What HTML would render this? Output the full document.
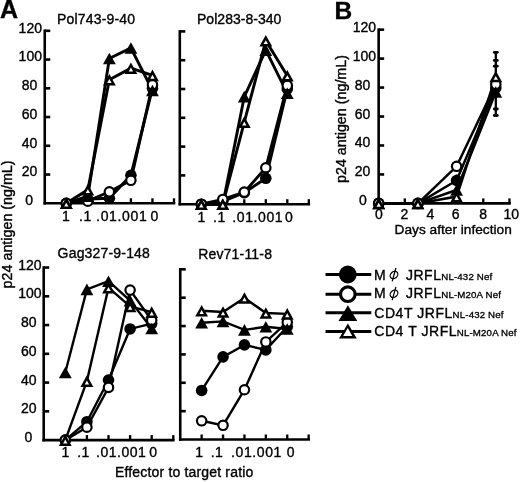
<!DOCTYPE html>
<html><head><meta charset="utf-8"><style>
html,body{margin:0;padding:0;background:#fff;}
svg{display:block;filter:blur(0.35px);}
text{font-family:"Liberation Sans", sans-serif;fill:#000;stroke:#000;stroke-width:0.36px;}
</style></head><body>
<svg width="520" height="482" viewBox="0 0 520 482">
<rect width="520" height="482" fill="#fff"/>
<g stroke="#000" fill="none">
<text x="0.1" y="18" font-size="25" font-weight="bold">A</text>
<text x="334.6" y="18.6" font-size="24.5" font-weight="bold">B</text>
<line x1="44.75" y1="29.5" x2="44.75" y2="204.6" stroke-width="2.6"/>
<line x1="44.75" y1="174.55" x2="50.25" y2="174.55" stroke-width="2.6"/>
<line x1="44.75" y1="145.8" x2="50.25" y2="145.8" stroke-width="2.6"/>
<line x1="44.75" y1="117.05" x2="50.25" y2="117.05" stroke-width="2.6"/>
<line x1="44.75" y1="88.3" x2="50.25" y2="88.3" stroke-width="2.6"/>
<line x1="44.75" y1="59.55" x2="50.25" y2="59.55" stroke-width="2.6"/>
<line x1="44.75" y1="30.8" x2="50.25" y2="30.8" stroke-width="2.6"/>
<line x1="43.45" y1="203.3" x2="175.29" y2="203.3" stroke-width="2.6"/>
<line x1="66.29" y1="203.3" x2="66.29" y2="198.3" stroke-width="2.34"/>
<line x1="87.83" y1="203.3" x2="87.83" y2="198.3" stroke-width="2.34"/>
<line x1="109.37" y1="203.3" x2="109.37" y2="198.3" stroke-width="2.34"/>
<line x1="130.91" y1="203.3" x2="130.91" y2="198.3" stroke-width="2.34"/>
<line x1="152.45" y1="203.3" x2="152.45" y2="198.3" stroke-width="2.34"/>
<line x1="173.99" y1="203.3" x2="173.99" y2="198.3" stroke-width="2.34"/>
<text x="57" y="23.6" font-size="14" letter-spacing="0.18">Pol743-9-40</text>
<polyline points="66.29,203.3 87.83,198.99 109.37,198.27 130.91,175.27 152.45,88.3" fill="none" stroke-width="2.9"/>
<polyline points="66.29,203.3 87.83,201.14 109.37,191.8 130.91,180.3 152.45,84.71" fill="none" stroke-width="2.9"/>
<polyline points="66.29,203.3 87.83,196.11 109.37,58.54 130.91,48.05 152.45,90.46" fill="none" stroke-width="2.9"/>
<polyline points="66.29,203.3 87.83,189.79 109.37,79.68 130.91,68.18 152.45,75.36" fill="none" stroke-width="2.9"/>
<circle cx="66.29" cy="203.3" r="5.8" fill="#000" stroke="none"/>
<circle cx="87.83" cy="198.99" r="5.8" fill="#000" stroke="none"/>
<circle cx="109.37" cy="198.27" r="5.8" fill="#000" stroke="none"/>
<circle cx="130.91" cy="175.27" r="5.8" fill="#000" stroke="none"/>
<circle cx="152.45" cy="88.3" r="5.8" fill="#000" stroke="none"/>
<circle cx="66.29" cy="203.3" r="4.7" fill="#fff" stroke-width="2.2"/>
<circle cx="87.83" cy="201.14" r="4.7" fill="#fff" stroke-width="2.2"/>
<circle cx="109.37" cy="191.8" r="4.7" fill="#fff" stroke-width="2.2"/>
<circle cx="130.91" cy="180.3" r="4.7" fill="#fff" stroke-width="2.2"/>
<circle cx="152.45" cy="84.71" r="4.7" fill="#fff" stroke-width="2.2"/>
<polygon points="66.29,197.5 72.69,209.1 59.89,209.1" fill="#000" stroke="none"/>
<polygon points="87.83,190.31 94.23,201.91 81.43,201.91" fill="#000" stroke="none"/>
<polygon points="109.37,52.74 115.77,64.34 102.97,64.34" fill="#000" stroke="none"/>
<polygon points="130.91,42.25 137.31,53.85 124.51,53.85" fill="#000" stroke="none"/>
<polygon points="152.45,84.66 158.85,96.26 146.05,96.26" fill="#000" stroke="none"/>
<polygon points="66.29,197.5 72.69,209.1 59.89,209.1" fill="#000" stroke="none"/>
<polygon points="66.29,202.68 68.46,206.6 64.12,206.6" fill="#fff" stroke="none"/>
<polygon points="87.83,183.99 94.23,195.59 81.43,195.59" fill="#000" stroke="none"/>
<polygon points="87.83,189.16 90,193.09 85.66,193.09" fill="#fff" stroke="none"/>
<polygon points="109.37,73.88 115.77,85.48 102.97,85.48" fill="#000" stroke="none"/>
<polygon points="109.37,79.05 111.54,82.98 107.2,82.98" fill="#fff" stroke="none"/>
<polygon points="130.91,62.38 137.31,73.98 124.51,73.98" fill="#000" stroke="none"/>
<polygon points="130.91,67.55 133.08,71.48 128.74,71.48" fill="#fff" stroke="none"/>
<polygon points="152.45,69.56 158.85,81.16 146.05,81.16" fill="#000" stroke="none"/>
<polygon points="152.45,74.74 154.62,78.66 150.28,78.66" fill="#fff" stroke="none"/>
<text x="29.2" y="205" font-size="14" text-anchor="middle">0</text>
<text x="29.5" y="176.25" font-size="14" text-anchor="middle">20</text>
<text x="29.5" y="147.5" font-size="14" text-anchor="middle">40</text>
<text x="29.5" y="118.75" font-size="14" text-anchor="middle">60</text>
<text x="29.5" y="90" font-size="14" text-anchor="middle">80</text>
<text x="30.3" y="61.25" font-size="14" text-anchor="middle">100</text>
<text x="30.3" y="32.5" font-size="14" text-anchor="middle">120</text>
<text x="62.1" y="221" font-size="14">1</text>
<text x="79" y="221" font-size="14" letter-spacing="0.5">.1</text>
<text x="96.1" y="221" font-size="14" letter-spacing="0.65">.01.001</text>
<text x="150.6" y="221" font-size="14">0</text>
<line x1="179.8" y1="30.1" x2="179.8" y2="205.5" stroke-width="2.6"/>
<line x1="179.8" y1="175.4" x2="185.3" y2="175.4" stroke-width="2.6"/>
<line x1="179.8" y1="146.6" x2="185.3" y2="146.6" stroke-width="2.6"/>
<line x1="179.8" y1="117.8" x2="185.3" y2="117.8" stroke-width="2.6"/>
<line x1="179.8" y1="89" x2="185.3" y2="89" stroke-width="2.6"/>
<line x1="179.8" y1="60.2" x2="185.3" y2="60.2" stroke-width="2.6"/>
<line x1="179.8" y1="31.4" x2="185.3" y2="31.4" stroke-width="2.6"/>
<line x1="178.5" y1="204.2" x2="310.1" y2="204.2" stroke-width="2.6"/>
<line x1="201.3" y1="204.2" x2="201.3" y2="199.2" stroke-width="2.34"/>
<line x1="222.8" y1="204.2" x2="222.8" y2="199.2" stroke-width="2.34"/>
<line x1="244.3" y1="204.2" x2="244.3" y2="199.2" stroke-width="2.34"/>
<line x1="265.8" y1="204.2" x2="265.8" y2="199.2" stroke-width="2.34"/>
<line x1="287.3" y1="204.2" x2="287.3" y2="199.2" stroke-width="2.34"/>
<line x1="308.8" y1="204.2" x2="308.8" y2="199.2" stroke-width="2.34"/>
<text x="197" y="23.6" font-size="14" letter-spacing="0.03">Pol283-8-340</text>
<polyline points="201.3,204.2 222.8,201.32 244.3,192.68 265.8,178.28 287.3,89" fill="none" stroke-width="2.9"/>
<polyline points="201.3,204.2 222.8,199.45 244.3,192.1 265.8,167.77 287.3,85.4" fill="none" stroke-width="2.9"/>
<polyline points="201.3,204.2 222.8,204.2 244.3,96.63 265.8,50.12 287.3,93.32" fill="none" stroke-width="2.9"/>
<polyline points="201.3,204.2 222.8,204.2 244.3,122.12 265.8,40.76 287.3,75.75" fill="none" stroke-width="2.9"/>
<circle cx="201.3" cy="204.2" r="5.8" fill="#000" stroke="none"/>
<circle cx="222.8" cy="201.32" r="5.8" fill="#000" stroke="none"/>
<circle cx="244.3" cy="192.68" r="5.8" fill="#000" stroke="none"/>
<circle cx="265.8" cy="178.28" r="5.8" fill="#000" stroke="none"/>
<circle cx="287.3" cy="89" r="5.8" fill="#000" stroke="none"/>
<circle cx="201.3" cy="204.2" r="4.7" fill="#fff" stroke-width="2.2"/>
<circle cx="222.8" cy="199.45" r="4.7" fill="#fff" stroke-width="2.2"/>
<circle cx="244.3" cy="192.1" r="4.7" fill="#fff" stroke-width="2.2"/>
<circle cx="265.8" cy="167.77" r="4.7" fill="#fff" stroke-width="2.2"/>
<circle cx="287.3" cy="85.4" r="4.7" fill="#fff" stroke-width="2.2"/>
<polygon points="201.3,198.4 207.7,210 194.9,210" fill="#000" stroke="none"/>
<polygon points="222.8,198.4 229.2,210 216.4,210" fill="#000" stroke="none"/>
<polygon points="244.3,90.83 250.7,102.43 237.9,102.43" fill="#000" stroke="none"/>
<polygon points="265.8,44.32 272.2,55.92 259.4,55.92" fill="#000" stroke="none"/>
<polygon points="287.3,87.52 293.7,99.12 280.9,99.12" fill="#000" stroke="none"/>
<polygon points="201.3,198.4 207.7,210 194.9,210" fill="#000" stroke="none"/>
<polygon points="201.3,203.58 203.47,207.5 199.13,207.5" fill="#fff" stroke="none"/>
<polygon points="222.8,198.4 229.2,210 216.4,210" fill="#000" stroke="none"/>
<polygon points="222.8,203.58 224.97,207.5 220.63,207.5" fill="#fff" stroke="none"/>
<polygon points="244.3,116.32 250.7,127.92 237.9,127.92" fill="#000" stroke="none"/>
<polygon points="244.3,121.5 246.47,125.42 242.13,125.42" fill="#fff" stroke="none"/>
<polygon points="265.8,34.96 272.2,46.56 259.4,46.56" fill="#000" stroke="none"/>
<polygon points="265.8,40.14 267.97,44.06 263.63,44.06" fill="#fff" stroke="none"/>
<polygon points="287.3,69.95 293.7,81.55 280.9,81.55" fill="#000" stroke="none"/>
<polygon points="287.3,75.13 289.47,79.05 285.13,79.05" fill="#fff" stroke="none"/>
<text x="197.6" y="221.5" font-size="14">1</text>
<text x="213" y="221.5" font-size="14" letter-spacing="0.5">.1</text>
<text x="232.3" y="221.5" font-size="14" letter-spacing="0.6">.01.001</text>
<text x="284.9" y="221.5" font-size="14">0</text>
<line x1="43.7" y1="266.24" x2="43.7" y2="441.4" stroke-width="2.6"/>
<line x1="43.7" y1="411.34" x2="49.2" y2="411.34" stroke-width="2.6"/>
<line x1="43.7" y1="382.58" x2="49.2" y2="382.58" stroke-width="2.6"/>
<line x1="43.7" y1="353.82" x2="49.2" y2="353.82" stroke-width="2.6"/>
<line x1="43.7" y1="325.06" x2="49.2" y2="325.06" stroke-width="2.6"/>
<line x1="43.7" y1="296.3" x2="49.2" y2="296.3" stroke-width="2.6"/>
<line x1="43.7" y1="267.54" x2="49.2" y2="267.54" stroke-width="2.6"/>
<line x1="42.4" y1="440.1" x2="174.6" y2="440.1" stroke-width="2.6"/>
<line x1="65.3" y1="440.1" x2="65.3" y2="435.1" stroke-width="2.34"/>
<line x1="86.9" y1="440.1" x2="86.9" y2="435.1" stroke-width="2.34"/>
<line x1="108.5" y1="440.1" x2="108.5" y2="435.1" stroke-width="2.34"/>
<line x1="130.1" y1="440.1" x2="130.1" y2="435.1" stroke-width="2.34"/>
<line x1="151.7" y1="440.1" x2="151.7" y2="435.1" stroke-width="2.34"/>
<line x1="173.3" y1="440.1" x2="173.3" y2="435.1" stroke-width="2.34"/>
<text x="57.6" y="258.4" font-size="14" letter-spacing="0.18">Gag327-9-148</text>
<polyline points="65.3,440.1 86.9,421.69 108.5,379.99 130.1,328.94 151.7,323.62" fill="none" stroke-width="2.4"/>
<polyline points="65.3,440.1 86.9,427.16 108.5,387.47 130.1,290.12 151.7,320.31" fill="none" stroke-width="2.4"/>
<polyline points="65.3,372.51 86.9,289.4 108.5,281.2 130.1,300.61 151.7,328.51" fill="none" stroke-width="2.4"/>
<polyline points="65.3,440.1 86.9,381.14 108.5,287.67 130.1,306.37 151.7,312.12" fill="none" stroke-width="2.4"/>
<circle cx="65.3" cy="440.1" r="5.8" fill="#000" stroke="none"/>
<circle cx="86.9" cy="421.69" r="5.8" fill="#000" stroke="none"/>
<circle cx="108.5" cy="379.99" r="5.8" fill="#000" stroke="none"/>
<circle cx="130.1" cy="328.94" r="5.8" fill="#000" stroke="none"/>
<circle cx="151.7" cy="323.62" r="5.8" fill="#000" stroke="none"/>
<circle cx="65.3" cy="440.1" r="4.7" fill="#fff" stroke-width="2.2"/>
<circle cx="86.9" cy="427.16" r="4.7" fill="#fff" stroke-width="2.2"/>
<circle cx="108.5" cy="387.47" r="4.7" fill="#fff" stroke-width="2.2"/>
<circle cx="130.1" cy="290.12" r="4.7" fill="#fff" stroke-width="2.2"/>
<circle cx="151.7" cy="320.31" r="4.7" fill="#fff" stroke-width="2.2"/>
<polygon points="65.3,366.71 71.7,378.31 58.9,378.31" fill="#000" stroke="none"/>
<polygon points="86.9,283.6 93.3,295.2 80.5,295.2" fill="#000" stroke="none"/>
<polygon points="108.5,275.4 114.9,287 102.1,287" fill="#000" stroke="none"/>
<polygon points="130.1,294.81 136.5,306.41 123.7,306.41" fill="#000" stroke="none"/>
<polygon points="151.7,322.71 158.1,334.31 145.3,334.31" fill="#000" stroke="none"/>
<polygon points="65.3,434.3 71.7,445.9 58.9,445.9" fill="#000" stroke="none"/>
<polygon points="65.3,439.48 67.47,443.4 63.13,443.4" fill="#fff" stroke="none"/>
<polygon points="86.9,375.34 93.3,386.94 80.5,386.94" fill="#000" stroke="none"/>
<polygon points="86.9,380.52 89.07,384.44 84.73,384.44" fill="#fff" stroke="none"/>
<polygon points="108.5,281.87 114.9,293.47 102.1,293.47" fill="#000" stroke="none"/>
<polygon points="108.5,287.05 110.67,290.97 106.33,290.97" fill="#fff" stroke="none"/>
<polygon points="130.1,300.57 136.5,312.17 123.7,312.17" fill="#000" stroke="none"/>
<polygon points="130.1,305.74 132.27,309.67 127.93,309.67" fill="#fff" stroke="none"/>
<polygon points="151.7,306.32 158.1,317.92 145.3,317.92" fill="#000" stroke="none"/>
<polygon points="151.7,311.49 153.87,315.42 149.53,315.42" fill="#fff" stroke="none"/>
<text x="28.5" y="442.1" font-size="14" text-anchor="middle">0</text>
<text x="28.7" y="413.34" font-size="14" text-anchor="middle">20</text>
<text x="28.7" y="384.58" font-size="14" text-anchor="middle">40</text>
<text x="28.7" y="355.82" font-size="14" text-anchor="middle">60</text>
<text x="28.7" y="327.06" font-size="14" text-anchor="middle">80</text>
<text x="29.9" y="298.3" font-size="14" text-anchor="middle">100</text>
<text x="29.9" y="269.54" font-size="14" text-anchor="middle">120</text>
<text x="61.6" y="457.2" font-size="14">1</text>
<text x="77.2" y="457.2" font-size="14" letter-spacing="0.5">.1</text>
<text x="96.1" y="457.2" font-size="14" letter-spacing="0.5">.01.001</text>
<text x="149.3" y="457.2" font-size="14">0</text>
<line x1="180.25" y1="268.04" x2="180.25" y2="440.8" stroke-width="2.6"/>
<line x1="180.25" y1="411.14" x2="185.75" y2="411.14" stroke-width="2.6"/>
<line x1="180.25" y1="382.78" x2="185.75" y2="382.78" stroke-width="2.6"/>
<line x1="180.25" y1="354.42" x2="185.75" y2="354.42" stroke-width="2.6"/>
<line x1="180.25" y1="326.06" x2="185.75" y2="326.06" stroke-width="2.6"/>
<line x1="180.25" y1="297.7" x2="185.75" y2="297.7" stroke-width="2.6"/>
<line x1="180.25" y1="269.34" x2="185.75" y2="269.34" stroke-width="2.6"/>
<line x1="178.95" y1="439.5" x2="309.95" y2="439.5" stroke-width="2.6"/>
<line x1="201.65" y1="439.5" x2="201.65" y2="434.5" stroke-width="2.34"/>
<line x1="223.05" y1="439.5" x2="223.05" y2="434.5" stroke-width="2.34"/>
<line x1="244.45" y1="439.5" x2="244.45" y2="434.5" stroke-width="2.34"/>
<line x1="265.85" y1="439.5" x2="265.85" y2="434.5" stroke-width="2.34"/>
<line x1="287.25" y1="439.5" x2="287.25" y2="434.5" stroke-width="2.34"/>
<line x1="308.65" y1="439.5" x2="308.65" y2="434.5" stroke-width="2.34"/>
<text x="198.2" y="259.2" font-size="14" letter-spacing="0.18">Rev71-11-8</text>
<polyline points="201.65,390.44 223.05,356.83 244.45,344.92 265.85,349.88 287.25,326.77" fill="none" stroke-width="2.4"/>
<polyline points="201.65,420.78 223.05,425.32 244.45,389.73 265.85,341.94 287.25,322.23" fill="none" stroke-width="2.4"/>
<polyline points="201.65,322.8 223.05,321.38 244.45,329.89 265.85,326.77 287.25,329.04" fill="none" stroke-width="2.4"/>
<polyline points="201.65,310.75 223.05,312.02 244.45,297.98 265.85,313.01 287.25,313.87" fill="none" stroke-width="2.4"/>
<circle cx="201.65" cy="390.44" r="5.8" fill="#000" stroke="none"/>
<circle cx="223.05" cy="356.83" r="5.8" fill="#000" stroke="none"/>
<circle cx="244.45" cy="344.92" r="5.8" fill="#000" stroke="none"/>
<circle cx="265.85" cy="349.88" r="5.8" fill="#000" stroke="none"/>
<circle cx="287.25" cy="326.77" r="5.8" fill="#000" stroke="none"/>
<circle cx="201.65" cy="420.78" r="4.7" fill="#fff" stroke-width="2.2"/>
<circle cx="223.05" cy="425.32" r="4.7" fill="#fff" stroke-width="2.2"/>
<circle cx="244.45" cy="389.73" r="4.7" fill="#fff" stroke-width="2.2"/>
<circle cx="265.85" cy="341.94" r="4.7" fill="#fff" stroke-width="2.2"/>
<circle cx="287.25" cy="322.23" r="4.7" fill="#fff" stroke-width="2.2"/>
<polygon points="201.65,317 208.05,328.6 195.25,328.6" fill="#000" stroke="none"/>
<polygon points="223.05,315.58 229.45,327.18 216.65,327.18" fill="#000" stroke="none"/>
<polygon points="244.45,324.09 250.85,335.69 238.05,335.69" fill="#000" stroke="none"/>
<polygon points="265.85,320.97 272.25,332.57 259.45,332.57" fill="#000" stroke="none"/>
<polygon points="287.25,323.24 293.65,334.84 280.85,334.84" fill="#000" stroke="none"/>
<polygon points="201.65,304.95 208.05,316.55 195.25,316.55" fill="#000" stroke="none"/>
<polygon points="201.65,310.12 203.82,314.05 199.48,314.05" fill="#fff" stroke="none"/>
<polygon points="223.05,306.22 229.45,317.82 216.65,317.82" fill="#000" stroke="none"/>
<polygon points="223.05,311.4 225.22,315.32 220.88,315.32" fill="#fff" stroke="none"/>
<polygon points="244.45,292.18 250.85,303.78 238.05,303.78" fill="#000" stroke="none"/>
<polygon points="244.45,297.36 246.62,301.28 242.28,301.28" fill="#fff" stroke="none"/>
<polygon points="265.85,307.21 272.25,318.81 259.45,318.81" fill="#000" stroke="none"/>
<polygon points="265.85,312.39 268.02,316.31 263.68,316.31" fill="#fff" stroke="none"/>
<polygon points="287.25,308.07 293.65,319.67 280.85,319.67" fill="#000" stroke="none"/>
<polygon points="287.25,313.24 289.42,317.17 285.08,317.17" fill="#fff" stroke="none"/>
<text x="195.2" y="457" font-size="14">1</text>
<text x="210.7" y="457" font-size="14" letter-spacing="0.5">.1</text>
<text x="231" y="457" font-size="14" letter-spacing="0.6">.01.001</text>
<text x="286.8" y="457" font-size="14">0</text>
<text transform="translate(12.1,224.4) rotate(-90)" font-size="14.3" text-anchor="middle">p24 antigen (ng/mL)</text>
<text transform="translate(346.0,119) rotate(-90)" font-size="14.3" text-anchor="middle">p24 antigen (ng/mL)</text>
<text x="115" y="477.4" font-size="14" letter-spacing="0.17">Effector to target ratio</text>
<line x1="378.65" y1="28.34" x2="378.65" y2="204.7" stroke-width="2.6"/>
<line x1="378.65" y1="174.44" x2="384.15" y2="174.44" stroke-width="2.6"/>
<line x1="378.65" y1="145.48" x2="384.15" y2="145.48" stroke-width="2.6"/>
<line x1="378.65" y1="116.52" x2="384.15" y2="116.52" stroke-width="2.6"/>
<line x1="378.65" y1="87.56" x2="384.15" y2="87.56" stroke-width="2.6"/>
<line x1="378.65" y1="58.6" x2="384.15" y2="58.6" stroke-width="2.6"/>
<line x1="378.65" y1="29.64" x2="384.15" y2="29.64" stroke-width="2.6"/>
<line x1="377.35" y1="203.4" x2="510.75" y2="203.4" stroke-width="2.6"/>
<line x1="404.81" y1="203.4" x2="404.81" y2="198.4" stroke-width="2.3"/>
<line x1="430.97" y1="203.4" x2="430.97" y2="198.4" stroke-width="2.3"/>
<line x1="457.13" y1="203.4" x2="457.13" y2="198.4" stroke-width="2.3"/>
<line x1="483.29" y1="203.4" x2="483.29" y2="198.4" stroke-width="2.3"/>
<line x1="509.45" y1="203.4" x2="509.45" y2="198.4" stroke-width="2.3"/>
<text x="363" y="205.4" font-size="14" text-anchor="middle">0</text>
<text x="362.6" y="176.44" font-size="14" text-anchor="middle">20</text>
<text x="362.6" y="147.48" font-size="14" text-anchor="middle">40</text>
<text x="362.6" y="118.52" font-size="14" text-anchor="middle">60</text>
<text x="362.6" y="89.56" font-size="14" text-anchor="middle">80</text>
<text x="364.4" y="60.6" font-size="14" text-anchor="middle">100</text>
<text x="364.4" y="31.64" font-size="14" text-anchor="middle">120</text>
<text x="378.9" y="219.2" font-size="14" text-anchor="middle">0</text>
<text x="404.4" y="219.2" font-size="14" text-anchor="middle">2</text>
<text x="430.5" y="219.2" font-size="14" text-anchor="middle">4</text>
<text x="455.7" y="219.2" font-size="14" text-anchor="middle">6</text>
<text x="483.2" y="219.2" font-size="14" text-anchor="middle">8</text>
<text x="511.2" y="219.2" font-size="14" text-anchor="middle">10</text>
<text x="394.6" y="234.3" font-size="13.7">Days after infection</text>
<line x1="495.8" y1="52.3" x2="495.8" y2="115.6" stroke-width="2.3"/>
<line x1="494.3" y1="52.3" x2="497.3" y2="52.3" stroke-width="2.8" stroke-linecap="round"/>
<line x1="494.3" y1="60.4" x2="497.3" y2="60.4" stroke-width="2.8" stroke-linecap="round"/>
<line x1="494.3" y1="66.2" x2="497.3" y2="66.2" stroke-width="2.8" stroke-linecap="round"/>
<line x1="494.3" y1="109" x2="497.3" y2="109" stroke-width="2.8" stroke-linecap="round"/>
<line x1="494.3" y1="115.5" x2="497.3" y2="115.5" stroke-width="2.8" stroke-linecap="round"/>
<line x1="456.6" y1="174.5" x2="456.6" y2="186" stroke-width="2"/>
<polyline points="378.7,203.4 417.9,203.4 456.6,180.5 495.8,88" fill="none" stroke-width="2.5"/>
<polyline points="378.7,203.4 417.9,203.4 456.6,166.3 495.8,84.3" fill="none" stroke-width="2.5"/>
<polyline points="378.7,203.4 417.9,203.4 456.6,190 495.8,92" fill="none" stroke-width="2.5"/>
<polyline points="378.7,203.4 417.9,203.4 456.6,196.6 495.8,76.5" fill="none" stroke-width="2.5"/>
<circle cx="378.7" cy="203.4" r="5.8" fill="#000" stroke="none"/>
<circle cx="417.9" cy="203.4" r="5.8" fill="#000" stroke="none"/>
<circle cx="456.6" cy="180.5" r="5.8" fill="#000" stroke="none"/>
<circle cx="495.8" cy="88" r="5.8" fill="#000" stroke="none"/>
<circle cx="378.7" cy="203.4" r="4.7" fill="#fff" stroke-width="2.2"/>
<circle cx="417.9" cy="203.4" r="4.7" fill="#fff" stroke-width="2.2"/>
<circle cx="456.6" cy="166.3" r="4.7" fill="#fff" stroke-width="2.2"/>
<circle cx="495.8" cy="84.3" r="4.7" fill="#fff" stroke-width="2.2"/>
<polygon points="378.7,197.6 385.1,209.2 372.3,209.2" fill="#000" stroke="none"/>
<polygon points="417.9,197.6 424.3,209.2 411.5,209.2" fill="#000" stroke="none"/>
<polygon points="456.6,184.2 463,195.8 450.2,195.8" fill="#000" stroke="none"/>
<polygon points="495.8,86.2 502.2,97.8 489.4,97.8" fill="#000" stroke="none"/>
<polygon points="378.7,197.6 385.1,209.2 372.3,209.2" fill="#000" stroke="none"/>
<polygon points="378.7,202.78 380.87,206.7 376.53,206.7" fill="#fff" stroke="none"/>
<polygon points="417.9,197.6 424.3,209.2 411.5,209.2" fill="#000" stroke="none"/>
<polygon points="417.9,202.78 420.07,206.7 415.73,206.7" fill="#fff" stroke="none"/>
<polygon points="456.6,190.8 463,202.4 450.2,202.4" fill="#000" stroke="none"/>
<polygon points="456.6,195.98 458.77,199.9 454.43,199.9" fill="#fff" stroke="none"/>
<polygon points="495.8,70.7 502.2,82.3 489.4,82.3" fill="#000" stroke="none"/>
<polygon points="495.8,75.88 497.97,79.8 493.63,79.8" fill="#fff" stroke="none"/>
<line x1="325.5" y1="274.5" x2="371.3" y2="274.5" stroke-width="3"/>
<circle cx="347.8" cy="274.5" r="8.9" fill="#000" stroke="none"/>
<text x="374.0" y="279.6" font-size="14">M</text>
<ellipse cx="394.0" cy="275" rx="4.2" ry="3.3" stroke-width="1.25" transform="rotate(-40 394 275)"/>
<line x1="395.9" y1="268" x2="392.2" y2="281.3" stroke-width="1.25"/>
<text x="405.9" y="279.6" font-size="14" letter-spacing="0.55">JRFL<tspan font-size="9.7" letter-spacing="0.15" dx="-0.3" stroke-width="0.32">NL-432 Nef</tspan></text>
<line x1="325.5" y1="294.2" x2="371.3" y2="294.2" stroke-width="3"/>
<circle cx="347.8" cy="294.2" r="7.3" fill="#fff" stroke-width="3.1"/>
<text x="374.0" y="298.4" font-size="14">M</text>
<ellipse cx="394.0" cy="293.8" rx="4.2" ry="3.3" stroke-width="1.25" transform="rotate(-40 394 293.8)"/>
<line x1="395.9" y1="286.8" x2="392.2" y2="300.1" stroke-width="1.25"/>
<text x="405.9" y="298.4" font-size="14" letter-spacing="0.55">JRFL<tspan font-size="9.7" letter-spacing="0.15" dx="-0.3" stroke-width="0.32">NL-M20A Nef</tspan></text>
<line x1="325.5" y1="312.8" x2="371.3" y2="312.8" stroke-width="3"/>
<polygon points="347.9,305.2 357.3,320.9 338.5,320.9" fill="#000" stroke="none"/>
<text x="374.3" y="317.9" font-size="14" letter-spacing="0.55">CD4T JRFL<tspan font-size="9.7" letter-spacing="0.15" dx="-0.3" stroke-width="0.32">NL-432 Nef</tspan></text>
<line x1="325.5" y1="331.4" x2="371.3" y2="331.4" stroke-width="3"/>
<polygon points="347.9,323.6 356.8,338.6 339.0,338.6" fill="#000" stroke="none"/>
<polygon points="347.75,327.9 352.3,335.9 343.2,335.9" fill="#fff" stroke="none"/>
<text x="374.3" y="336.1" font-size="14" letter-spacing="0.55">CD4 T JRFL<tspan font-size="9.7" letter-spacing="0.15" dx="-0.3" stroke-width="0.32">NL-M20A Nef</tspan></text>
</g>
</svg>
</body></html>
